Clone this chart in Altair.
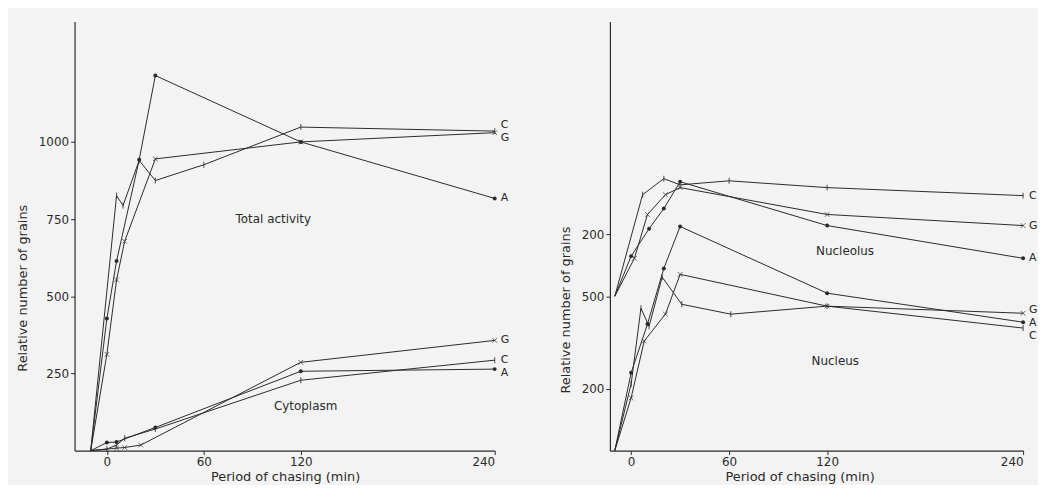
import altair as alt
import pandas as pd

INK = "#2a2a2a"
FONT = "DejaVu Sans"

# ---------------- Left panel: Total activity & Cytoplasm ----------------
TA_A_t = [-10, 0, 6, 20, 30, 120, 240]
TA_A_v = [0, 428, 614, 942, 1215, 1000, 817]
TA_C_t = [-10, 6, 10, 20, 30, 60, 120, 240]
TA_C_v = [0, 826, 794, 940, 875, 926, 1048, 1035]
TA_G_t = [-10, 0, 6, 11, 30, 120, 240]
TA_G_v = [0, 312, 553, 678, 945, 1000, 1030]

CY_A_t = [-10, 0, 6, 30, 120, 240]
CY_A_v = [0, 26, 28, 75, 257, 264]
CY_C_t = [-10, 0, 6, 11, 30, 120, 240]
CY_C_v = [0, 5, 18, 40, 70, 228, 293]
CY_G_t = [-10, 6, 11, 21, 120, 240]
CY_G_v = [0, 8, 10, 18, 286, 357]

# ---------------- Right panel: Nucleolus (offset by 500) & Nucleus ----------------
NO_A_t = [-10, 0, 11, 20, 30, 120, 240]
NO_A_v = [0, 130, 219, 284, 371, 229, 123]
NO_C_t = [-10, 7, 20, 30, 60, 120, 240]
NO_C_v = [0, 329, 381, 361, 374, 352, 326]
NO_G_t = [-10, 2, 10, 21, 30, 120, 240]
NO_G_v = [0, 123, 265, 329, 352, 265, 229]

NU_A_t = [-10, 0, 10, 20, 30, 120, 240]
NU_A_v = [0, 252, 410, 590, 726, 510, 416]
NU_C_t = [-10, 0, 6, 11, 19, 31, 61, 120, 240]
NU_C_v = [0, 216, 461, 403, 562, 474, 442, 468, 397]
NU_G_t = [-10, 0, 8, 21, 30, 120, 240]
NU_G_v = [0, 171, 355, 442, 571, 468, 445]

NUCLEOLUS_OFFSET = 500

LEFT_Y_TICKS = [250, 500, 750, 1000]
RIGHT_Y_TICKS = [200, 500, 700]          # 700 = nucleolus 200
X_TICKS = [0, 60, 120, 240]

# annotations: (text, t, value on axis)
LEFT_NOTES = [("Total activity", 103, 749), ("Cytoplasm", 123, 145)]
RIGHT_NOTES = [("Nucleolus", 131, 645), ("Nucleus", 125, 290)]


def rows(group, series, ts, vs):
    return [{"group": group, "series": series, "key": group + series, "t": t, "value": v}
            for t, v in zip(ts, vs)]


left_df = pd.DataFrame(
    rows("Total", "A", TA_A_t, TA_A_v) + rows("Total", "C", TA_C_t, TA_C_v)
    + rows("Total", "G", TA_G_t, TA_G_v) + rows("Cyto", "A", CY_A_t, CY_A_v)
    + rows("Cyto", "C", CY_C_t, CY_C_v) + rows("Cyto", "G", CY_G_t, CY_G_v)
)
right_df = pd.DataFrame(
    rows("Nucleolus", "A", NO_A_t, NO_A_v) + rows("Nucleolus", "C", NO_C_t, NO_C_v)
    + rows("Nucleolus", "G", NO_G_t, NO_G_v) + rows("Nucleus", "A", NU_A_t, NU_A_v)
    + rows("Nucleus", "C", NU_C_t, NU_C_v) + rows("Nucleus", "G", NU_G_t, NU_G_v)
)

SHAPE_I = "M0,-1V1"
SHAPE_X = "M-1,-1L1,1M-1,1L1,-1"


def panel(df, xdomain, width, yticks, label_expr, notes, label_dy, ytitle_y, xtitle_x):
    xs = alt.Scale(domain=xdomain, nice=False, zero=False)
    ys = alt.Scale(domain=[0, 1390], nice=False)
    xaxis = alt.Axis(values=X_TICKS, title="Period of chasing (min)", grid=False,
                     tickSize=4, labelPadding=2, titlePadding=3, titleX=xtitle_x)
    yargs = dict(values=yticks, title="Relative number of grains", grid=False, format="d",
                 tickSize=4, labelPadding=2, titlePadding=9, titleY=ytitle_y)
    if label_expr:
        yargs["labelExpr"] = label_expr
    yaxis = alt.Axis(**yargs)

    base = alt.Chart(df).transform_calculate(
        u=f"datum.group == 'Nucleolus' ? datum.value + {NUCLEOLUS_OFFSET} : datum.value"
    )
    X = alt.X("t:Q", scale=xs, axis=xaxis)
    Y = alt.Y("u:Q", scale=ys, axis=yaxis)

    lines = base.mark_line(color=INK, strokeWidth=1).encode(x=X, y=Y, detail="key:N")
    pts_a = base.transform_filter("datum.series == 'A' && datum.t > -10").mark_circle(
        color=INK, size=16, opacity=1).encode(x=X, y=Y)
    pts_c = base.transform_filter("datum.series == 'C' && datum.t > -10").mark_point(
        shape=SHAPE_I, size=36, stroke=INK, strokeWidth=1.2, filled=False).encode(x=X, y=Y)
    pts_g = base.transform_filter("datum.series == 'G' && datum.t > -10").mark_point(
        shape=SHAPE_X, size=22, stroke=INK, strokeWidth=1, filled=False).encode(x=X, y=Y)

    layers = [lines, pts_a, pts_c, pts_g]
    for (grp, ser), dy in label_dy.items():
        layers.append(
            base.transform_filter(f"datum.group == '{grp}' && datum.series == '{ser}' && datum.t == 240")
            .mark_text(align="left", baseline="middle", dx=6, dy=dy, font=FONT, fontSize=11, color=INK)
            .encode(x=X, y=Y, text="series:N")
        )
    notes_df = pd.DataFrame({"text": [n[0] for n in notes], "t": [n[1] for n in notes],
                             "u": [n[2] for n in notes]})
    layers.append(
        alt.Chart(notes_df).mark_text(font=FONT, fontSize=12, color=INK)
        .encode(x=alt.X("t:Q", scale=xs), y=alt.Y("u:Q", scale=ys), text="text:N")
    )
    return alt.layer(*layers).properties(width=width, height=432)


left = panel(left_df, [-20, 240], 423, LEFT_Y_TICKS, None, LEFT_NOTES,
             {("Total", "C"): -6, ("Total", "G"): 5, ("Total", "A"): 0,
              ("Cyto", "G"): 0, ("Cyto", "C"): 0, ("Cyto", "A"): 4},
             268, 212)
right = panel(right_df, [-13, 240], 416, RIGHT_Y_TICKS,
              "datum.value == 700 ? '200' : datum.label", RIGHT_NOTES,
              {("Nucleolus", "C"): 0, ("Nucleolus", "G"): 0, ("Nucleolus", "A"): 0,
               ("Nucleus", "G"): -3, ("Nucleus", "A"): 1, ("Nucleus", "C"): 8},
             290, 191)

chart = alt.hconcat(left, right, spacing=50).properties(
    padding={"left": 8, "top": 12, "right": 0, "bottom": 0},
    background="#f3f3f3",
).configure_view(stroke=None).configure_axis(
    domainColor=INK, tickColor=INK, labelColor=INK, titleColor=INK,
    labelFont=FONT, titleFont=FONT, labelFontSize=12, titleFontSize=13,
    titleFontWeight="normal", domainWidth=1.2,
)

chart.save("out.html", embed_options={"renderer": "svg", "actions": False})
